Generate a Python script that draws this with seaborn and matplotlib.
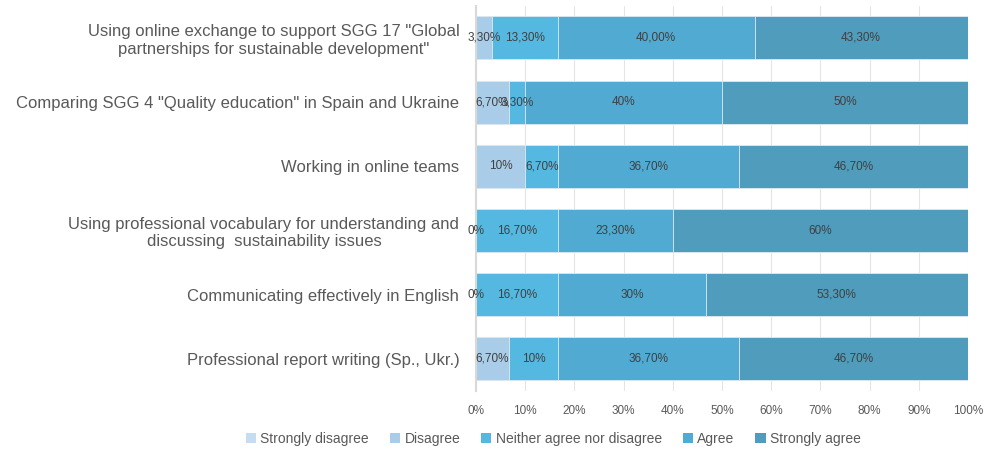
import matplotlib
matplotlib.use("Agg")
import matplotlib.pyplot as plt
import seaborn as sns
import pandas as pd
import numpy as np
from matplotlib.patches import Patch

categories = [
    'Using online exchange to support SGG 17 "Global\npartnerships for sustainable development"',
    'Comparing SGG 4 "Quality education" in Spain and Ukraine',
    'Working in online teams',
    'Using professional vocabulary for understanding and\ndiscussing  sustainability issues',
    'Communicating effectively in English',
    'Professional report writing (Sp., Ukr.)',
]
series_names = ["Strongly disagree", "Disagree", "Neither agree nor disagree", "Agree", "Strongly agree"]
strongly_disagree = [0, 0, 0, 0, 0, 0]
disagree = [3.3, 6.7, 10, 0, 0, 6.7]
neither = [13.3, 3.3, 6.7, 16.7, 16.7, 10]
agree = [40, 40, 36.7, 23.3, 30, 36.7]
strongly_agree = [43.3, 50, 46.7, 60, 53.3, 46.7]

disagree_labels = ["3,30%", "6,70%", "10%", "0%", "0%", "6,70%"]
neither_labels = ["13,30%", "3,30%", "6,70%", "16,70%", "16,70%", "10%"]
agree_labels = ["40,00%", "40%", "36,70%", "23,30%", "30%", "36,70%"]
strongly_agree_labels = ["43,30%", "50%", "46,70%", "60%", "53,30%", "46,70%"]

colors = ["#c6dcf0", "#a9cde9", "#55b8e0", "#51aad1", "#4f9cbd"]

sns.set_theme(style="white")
plt.rcParams["font.family"] = ["Liberation Sans", "DejaVu Sans"]

series = [strongly_disagree, disagree, neither, agree, strongly_agree]
labels = [None, disagree_labels, neither_labels, agree_labels, strongly_agree_labels]

fig = plt.figure(figsize=(9.88, 4.5), dpi=100)
ax = fig.add_axes([0.4818, 0.131, 0.498, 0.856])

cum = np.cumsum(np.array(series, dtype=float), axis=0)
# draw cumulative totals from the largest down so segments stack
for i in range(len(series) - 1, -1, -1):
    df = pd.DataFrame({"cat": categories, "val": cum[i]})
    sns.barplot(data=df, y="cat", x="val", orient="h", color=colors[i],
                width=0.67, edgecolor="#dfeaf3", linewidth=0.6, ax=ax,
                saturation=1, zorder=2)

for i in range(1, len(series)):
    for j, cat in enumerate(categories):
        v = series[i][j]
        if labels[i] is None:
            continue
        center = cum[i][j] - v / 2
        ax.text(center, j, labels[i][j], ha="center", va="center",
                fontsize=8.5, color="#404040", zorder=5)

ax.set_xlim(0, 100)
ax.set_ylim(5.5, -0.5)
ax.set_xticks(np.arange(0, 101, 10))
ax.set_xticklabels([f"{t}%" for t in range(0, 101, 10)], fontsize=8.5, color="#595959")
ax.tick_params(axis="y", labelsize=12, labelcolor="#595959", length=0, pad=12)
ax.tick_params(axis="x", length=0, pad=10)
for t in ax.get_yticklabels():
    t.set_multialignment("center")
ax.set_xlabel("")
ax.set_ylabel("")
ax.grid(axis="x", color="#808080", alpha=0.2, linewidth=0.8, zorder=3)
for s in ["top", "right", "bottom"]:
    ax.spines[s].set_visible(False)
ax.spines["left"].set_color("#d9d9d9")
ax.spines["left"].set_linewidth(1.5)
ax.spines["left"].set_zorder(4)

handles = [Patch(facecolor=c, edgecolor="none", label=n) for c, n in zip(colors, series_names)]
fig.legend(handles=handles, loc="center", bbox_to_anchor=(0.56, 0.024), ncol=5,
           frameon=False, fontsize=10, handlelength=0.75, handleheight=0.75,
           handletextpad=0.3, columnspacing=1.5, labelcolor="#595959")

fig.savefig("out.png", dpi=100)
